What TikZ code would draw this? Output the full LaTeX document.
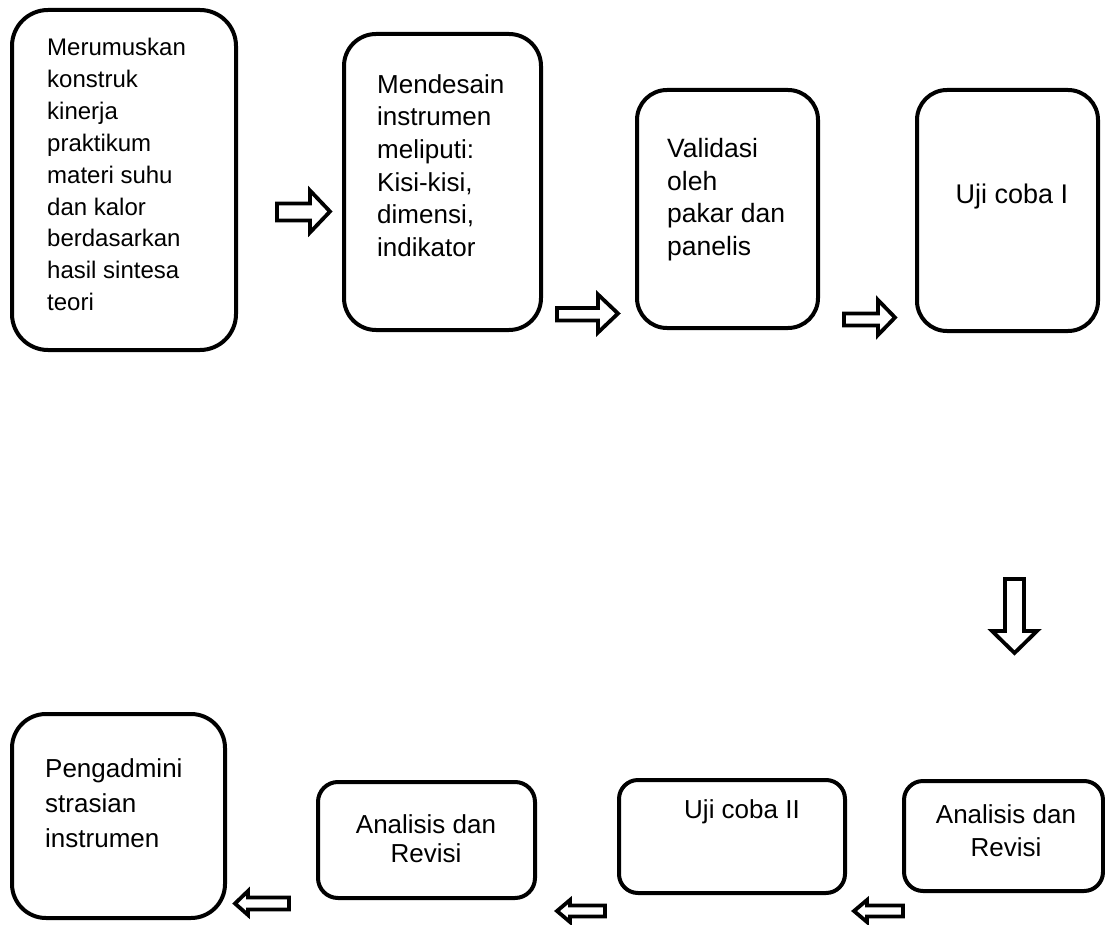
\documentclass[tikz,border=0pt]{standalone}
\usepackage{fontspec}
\setmainfont{Liberation Sans}
\begin{document}
\begin{tikzpicture}[x=1pt,y=-1pt,
  box/.style={draw=black, line width=4pt, fill=white, inner sep=0pt},
  txt/.style={inner sep=0pt, align=left, anchor=north west},
  ctxt/.style={inner sep=0pt, align=center, anchor=north},
  blockarrow/.style={draw=black, line width=3.8pt, fill=white, line join=miter}]
\useasboundingbox (0,0) rectangle (1105,925);
% top row boxes
\node[box, rounded corners=36pt, minimum width=224pt, minimum height=340pt] (b1) at (124,180) {};
\node[box, rounded corners=32pt, minimum width=197pt, minimum height=296pt] (b2) at (442.5,182) {};
\node[box, rounded corners=30pt, minimum width=181pt, minimum height=238pt] (b3) at (727.5,209) {};
\node[box, rounded corners=30pt, minimum width=181pt, minimum height=241pt] (b4) at (1007.5,210.5) {};
% bottom row boxes
\node[box, rounded corners=34pt, minimum width=213pt, minimum height=204pt] (b5) at (118.5,816) {};
\node[box, rounded corners=20pt, minimum width=217pt, minimum height=116pt] (b6) at (426.5,840) {};
\node[box, rounded corners=19pt, minimum width=226pt, minimum height=113pt] (b7) at (732,836.5) {};
\node[box, rounded corners=19pt, minimum width=199pt, minimum height=110pt] (b8) at (1003.5,836) {};
% texts
\node[txt, font=\fontsize{24}{31.9}\selectfont] (t1) at (47,38)
  {Merumuskan\\konstruk\\kinerja\\praktikum\\materi suhu\\dan kalor\\berdasarkan\\hasil sintesa\\teori};
\node[txt, font=\fontsize{26}{32.7}\selectfont] (t2) at (377,74)
  {Mendesain\\instrumen\\meliputi:\\Kisi-kisi,\\dimensi,\\indikator};
\node[txt, font=\fontsize{26.5}{32.7}\selectfont] (t3) at (667,138)
  {Validasi\\oleh\\pakar dan\\panelis};
\node[ctxt, font=\fontsize{27}{32}\selectfont] (t4) at (1012,184) {Uji coba I};
\node[txt, font=\fontsize{26}{35}\selectfont] (t5) at (45,758)
  {Pengadmini\\strasian\\instrumen};
\node[ctxt, font=\fontsize{26}{29}\selectfont] (t6) at (426,814) {Analisis dan\\Revisi};
\node[ctxt, font=\fontsize{26}{32}\selectfont] (t7) at (742,799) {Uji coba II};
\node[ctxt, font=\fontsize{26}{33}\selectfont] (t8) at (1006,804) {Analisis dan\\Revisi};
% block arrows (right)
\draw[blockarrow] (277,203.5) -- (310,203.5) -- (310,190.5) -- (330,211.5) -- (310,232.5) -- (310,220.5) -- (277,220.5) -- cycle;
\draw[blockarrow] (557,308) -- (598,308) -- (598,294.5) -- (618,313.5) -- (598,332.5) -- (598,320.5) -- (557,320.5) -- cycle;
\draw[blockarrow] (844,313.5) -- (878,313.5) -- (878,300) -- (895,317.5) -- (878,335) -- (878,325.5) -- (844,325.5) -- cycle;
% down arrow
\draw[blockarrow] (1005,579) -- (1024,579) -- (1024,631) -- (1037,631) -- (1014.5,653) -- (992,631) -- (1005,631) -- cycle;
% left arrows
\draw[blockarrow] (289,897.5) -- (248,897.5) -- (248,891) -- (235,903.5) -- (248,915) -- (248,909.5) -- (289,909.5) -- cycle;
\draw[blockarrow] (605,905.5) -- (570,905.5) -- (570,900) -- (557,911) -- (570,922) -- (570,916.5) -- (605,916.5) -- cycle;
\draw[blockarrow] (903,905.5) -- (867,905.5) -- (867,900) -- (854,911) -- (867,922) -- (867,916.5) -- (903,916.5) -- cycle;
\end{tikzpicture}
\end{document}
